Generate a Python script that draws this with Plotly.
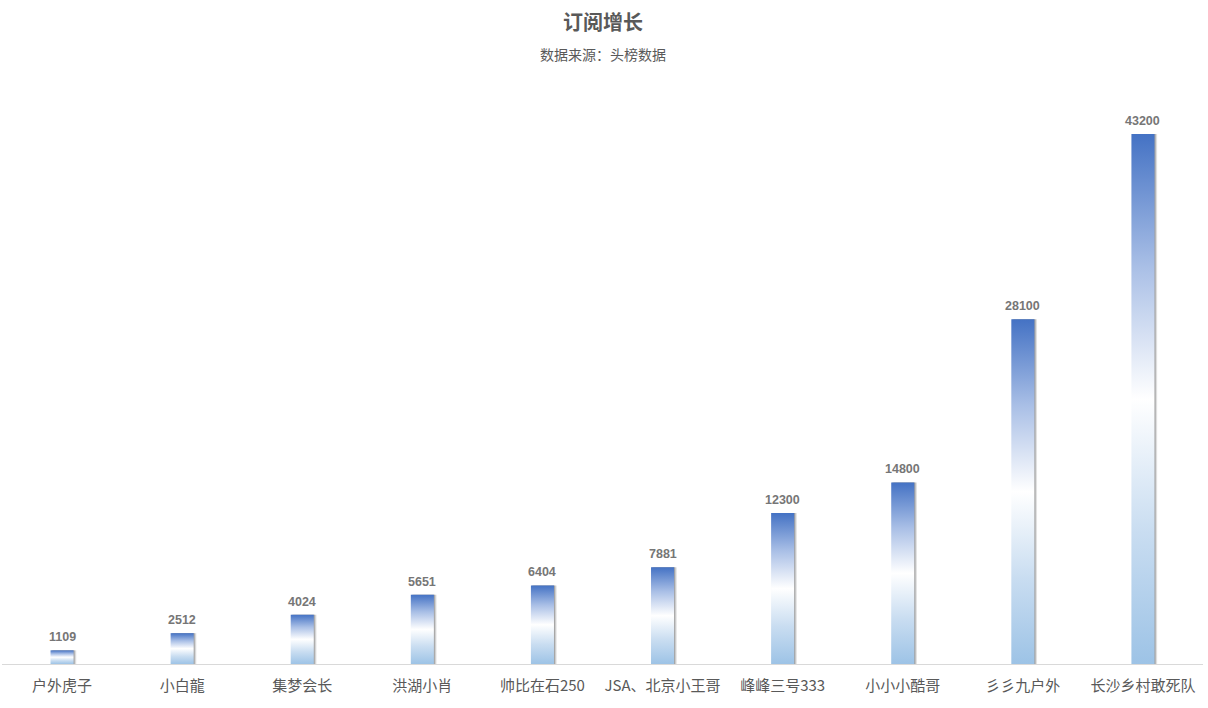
import plotly.graph_objects as go

categories = ["户外虎子", "小白龍", "集梦会长", "洪湖小肖", "帅比在石250",
              "JSA、北京小王哥", "峰峰三号333", "小小小酷哥", "彡彡九户外", "长沙乡村敢死队"]
values = [1109, 2512, 4024, 5651, 6404, 7881, 12300, 14800, 28100, 43200]
title_text = "订阅增长"
subtitle_text = "数据来源：头榜数据"

BAR_HALF = 0.096
SHADOW_DX = 0.022
grad = [[0, "#9DC3E6"], [0.25, "#C9DDF1"], [0.5, "#FFFFFF"], [0.75, "#A9BFE6"], [1, "#4472C4"]]

W, H = 1208, 708
M_T, M_B = 100, 44
plot_h = H - M_T - M_B

fig = go.Figure()

for i, v in enumerate(values):
    for k, op in [(1.0, 0.18), (0.6, 0.25), (0.3, 0.30)]:
        dx = SHADOW_DX * k
        fig.add_trace(go.Scatter(
            x=[i - BAR_HALF + dx, i - BAR_HALF + dx, i + BAR_HALF + dx, i + BAR_HALF + dx, i - BAR_HALF + dx],
            y=[0, v, v, 0, 0],
            mode="lines", line=dict(width=0), fill="toself",
            fillcolor=f"rgba(90,90,90,{op})", hoverinfo="skip", showlegend=False))
    fig.add_trace(go.Scatter(
        x=[i - BAR_HALF, i - BAR_HALF, i + BAR_HALF, i + BAR_HALF, i - BAR_HALF],
        y=[0, v, v, 0, 0],
        mode="lines", line=dict(width=0), fill="toself",
        fillgradient=dict(type="vertical", colorscale=grad),
        hoverinfo="skip", showlegend=False))

annotations = []
for i, v in enumerate(values):
    annotations.append(dict(
        x=i, y=v, xref="x", yref="y", text=str(v), showarrow=False,
        xanchor="center", yanchor="bottom", yshift=4,
        font=dict(family="Liberation Sans, Arial", size=12.5, color="#767676", weight="bold")))

annotations.append(dict(
    x=0.5, y=1 + (M_T - 22) / plot_h, xref="paper", yref="paper",
    text=f"<b>{title_text}</b>", showarrow=False, xanchor="center", yanchor="middle",
    font=dict(family="Noto Sans CJK SC", size=20, color="#595959")))
annotations.append(dict(
    x=0.5, y=1 + (M_T - 54) / plot_h, xref="paper", yref="paper",
    text=subtitle_text, showarrow=False, xanchor="center", yanchor="middle",
    font=dict(family="Noto Sans CJK SC", size=14, color="#595959")))

fig.update_layout(
    width=W, height=H,
    margin=dict(l=2, r=5, t=M_T, b=M_B),
    paper_bgcolor="white", plot_bgcolor="white",
    annotations=annotations,
    xaxis=dict(range=[-0.5, 9.5], tickmode="array", tickvals=list(range(len(categories))),
               ticktext=categories, showgrid=False, zeroline=False,
               showline=True, linecolor="#D9D9D9", linewidth=1, ticks="",
               ticklabelstandoff=8,
               tickfont=dict(family="Noto Sans CJK SC", size=15, color="#595959")),
    yaxis=dict(range=[0, 45970], visible=False, showgrid=False, zeroline=False),
)

fig.write_html("out.html", config={"displayModeBar": False},
               post_script="document.body.style.margin='0';")
